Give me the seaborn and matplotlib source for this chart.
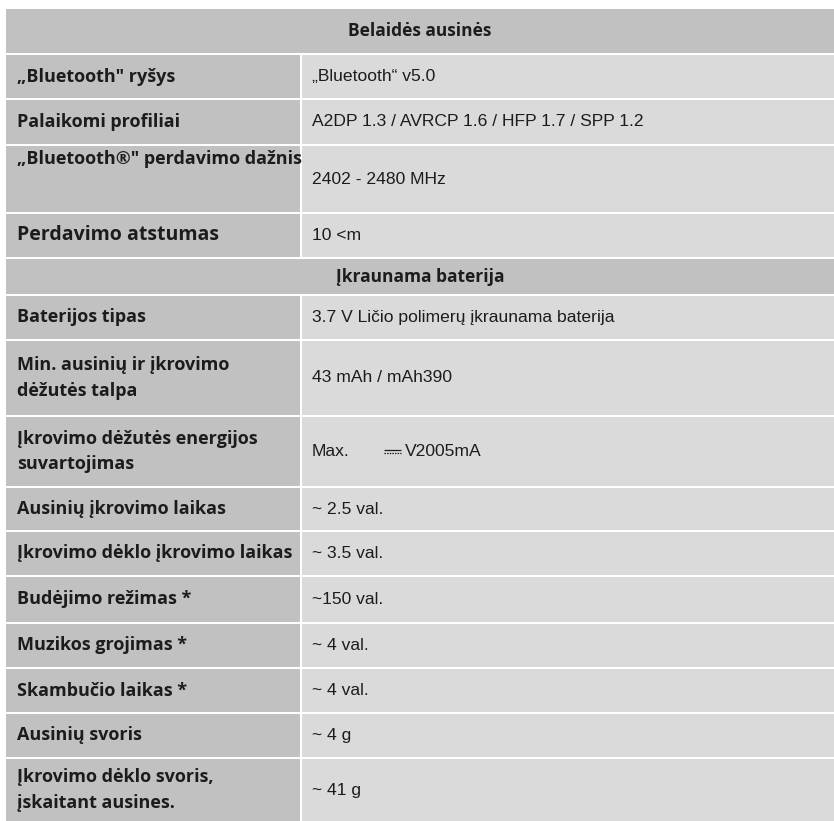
import matplotlib
matplotlib.use("Agg")
import matplotlib.pyplot as plt
import seaborn as sns

# ---- table content ----
sections = ["Belaidės ausinės", "Įkraunama baterija"]

wireless_labels = ['„Bluetooth" ryšys', "Palaikomi profiliai",
                   '„Bluetooth®" perdavimo dažnis', "Perdavimo atstumas"]
wireless_values = ["„Bluetooth“ v5.0", "A2DP 1.3 / AVRCP 1.6 / HFP 1.7 / SPP 1.2",
                   "2402 - 2480 MHz", "10 <m"]

battery_labels = ["Baterijos tipas", "Min. ausinių ir įkrovimo\ndėžutės talpa",
                  "Įkrovimo dėžutės energijos\nsuvartojimas", "Ausinių įkrovimo laikas",
                  "Įkrovimo dėklo įkrovimo laikas", "Budėjimo režimas *",
                  "Muzikos grojimas *", "Skambučio laikas *", "Ausinių svoris",
                  "Įkrovimo dėklo svoris,\nįskaitant ausines."]
battery_values = ["3.7 V Ličio polimerų įkraunama baterija", "43 mAh / mAh390",
                  "Max.|⎓|V2005mA", "~ 2.5 val.", "~ 3.5 val.", "~150 val.",
                  "~ 4 val.", "~ 4 val.", "~ 4 g", "~ 41 g"]

# ---- layout (pixels) ----
W, H = 834, 821
row_heights = [44, 43, 44, 66, 43, 35, 43, 74, 69, 42, 43, 45, 43, 43, 43, 62]
GAP = 2
TOP = 9
LEFT, SPLIT, RIGHT = 6, 301, 834
HEAD_COLOR = "#c1c1c1"
VAL_COLOR = "#dadada"
TEXT = "#1c1c1c"
LABEL_SIZE = 13
VAL_SIZE = 12.6

sns.set_theme(style="white")
plt.rcParams["font.family"] = ["Open Sans", "DejaVu Sans"]
VAL_FONT = ["Liberation Sans", "DejaVu Sans"]

fig = plt.figure(figsize=(W / 100, H / 100), dpi=100)
ax = fig.add_axes([0, 0, 1, 1])
ax.set_xlim(0, W)
ax.set_ylim(H, 0)
ax.axis("off")

rows = ([("head", sections[0], None)]
        + [("row", l, v) for l, v in zip(wireless_labels, wireless_values)]
        + [("head", sections[1], None)]
        + [("row", l, v) for l, v in zip(battery_labels, battery_values)])

y = TOP
for (kind, label, value), h in zip(rows, row_heights):
    cy = y + h / 2
    if kind == "head":
        ax.barh(cy, RIGHT - LEFT, left=LEFT, height=h, color=HEAD_COLOR, linewidth=0)
        ax.text((LEFT + RIGHT) / 2, cy, label, ha="center", va="center",
                fontsize=12.5, fontweight="bold", color=TEXT)
        y += h + GAP
        continue

    ax.barh(cy, SPLIT - 1 - LEFT, left=LEFT, height=h, color=HEAD_COLOR, linewidth=0)
    ax.barh(cy, RIGHT - SPLIT - 1, left=SPLIT + 1, height=h, color=VAL_COLOR, linewidth=0)

    # the long Bluetooth label sits at the top of its cell in the original
    ly = y + 13 if label.startswith("„Bluetooth®") else cy
    size = 14 if label == "Perdavimo atstumas" else LABEL_SIZE
    ax.text(17, ly, label, ha="left", va="center", fontsize=size,
            fontweight="bold", color=TEXT, linespacing=1.55)

    if "|" in value:
        a, sym, b = value.split("|")
        ax.text(312, cy, a, ha="left", va="center", fontsize=VAL_SIZE,
                family=VAL_FONT, color=TEXT)
        # DC sign (⎓) is in no installed font: solid line over a dashed one
        ax.plot([384, 401], [cy - 1, cy - 1], color=TEXT, lw=0.9,
                solid_capstyle="butt")
        ax.plot([384, 401], [cy + 1.5, cy + 1.5], color=TEXT, lw=0.9,
                linestyle=(0, (1.2, 0.9)), dash_capstyle="butt")
        ax.text(405, cy, b, ha="left", va="center", fontsize=VAL_SIZE,
                family=VAL_FONT, color=TEXT)
    else:
        ax.text(312, cy, value, ha="left", va="center", fontsize=VAL_SIZE,
                family=VAL_FONT, color=TEXT)
    y += h + GAP

fig.savefig("out.png", dpi=100, facecolor="white")
